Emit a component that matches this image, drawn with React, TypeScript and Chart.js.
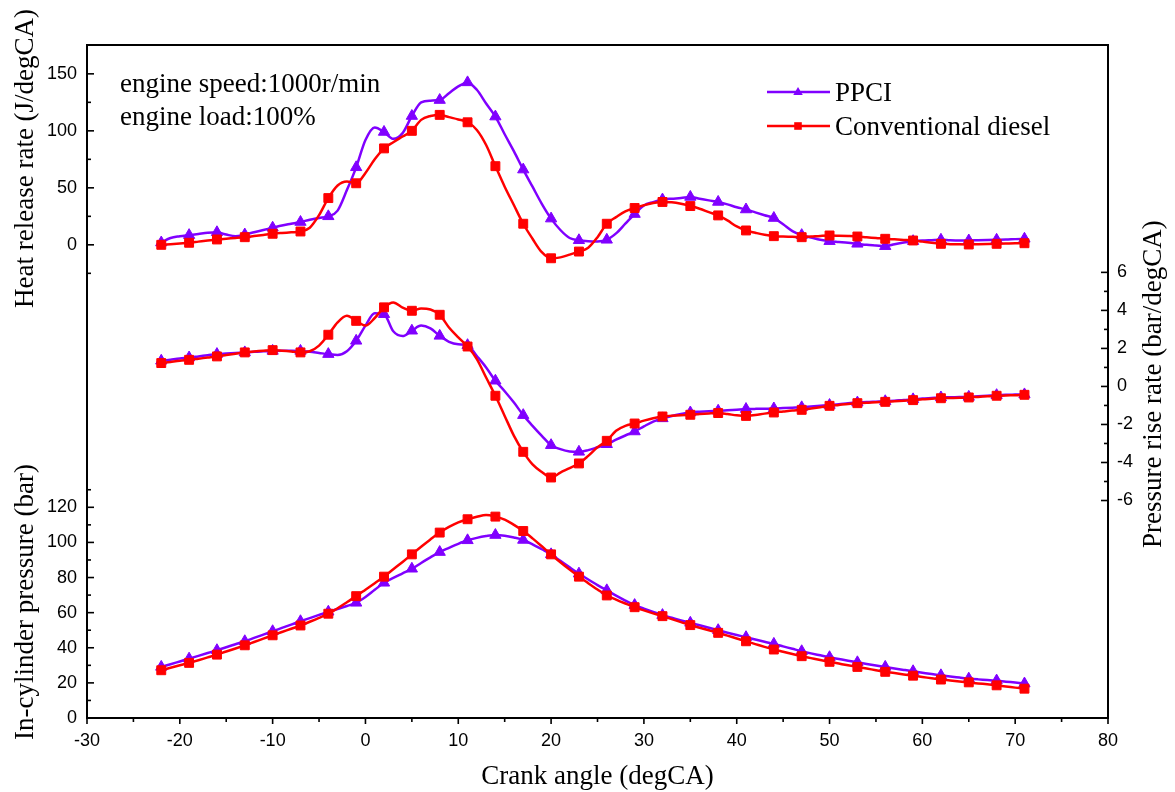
import React, { useEffect, useRef } from 'react';
import { Chart, registerables } from 'chart.js';

Chart.register(...registerables);

// Crank angle (degCA), one reading per degree
const crankAngle = [
  -22, -21, -20, -19, -18, -17, -16, -15, -14, -13,
  -12, -11, -10, -9, -8, -7, -6, -5, -4, -3,
  -2, -1, 0, 1, 2, 3, 4, 5, 6, 7,
  8, 9, 10, 11, 12, 13, 14, 15, 16, 17,
  18, 19, 20, 21, 22, 23, 24, 25, 26, 27,
  28, 29, 30, 31, 32, 33, 34, 35, 36, 37,
  38, 39, 40, 41, 42, 43, 44, 45, 46, 47,
  48, 49, 50, 51, 52, 53, 54, 55, 56, 57,
  58, 59, 60, 61, 62, 63, 64, 65, 66, 67,
  68, 69, 70, 71,
];

// angles where symbols are drawn
const markerAngles = [-22, -19, -16, -13, -10, -7, -4, -1, 2, 5, 8, 11, 14, 17, 20, 23, 26, 29, 32, 35, 38, 41, 44, 47, 50, 53, 56, 59, 62, 65, 68, 71];

// Heat release rate (J/degCA)
const hrrPPCI = [
  2, 6, 7.5, 8.5, 9.5, 10.5, 11, 9, 7.5, 9,
  11, 13, 15, 17, 18.5, 20, 22, 23.5, 25, 30,
  48, 68, 92, 103, 99, 93, 98, 113, 125, 126.5,
  127, 133, 139, 142.5, 136, 124, 112.5, 97, 82, 66,
  51, 36, 23, 13, 6, 4, 3.2, 3, 4.4, 10,
  18.5, 27, 34.5, 37.5, 39.7, 40.5, 41, 42, 40.5, 39,
  37.6, 35.5, 33, 31, 28.5, 26, 23.5, 18, 12, 8.5,
  6.5, 4.5, 3.2, 2.5, 1.8, 0.9, 0, -0.6, -1.2, 0.5,
  2, 3.2, 3.8, 4.1, 4.4, 4, 3.8, 3.8, 4, 4.2,
  4.4, 4.6, 5, 5.3,
];
const hrrConv = [
  0, 0.6, 1.2, 1.8, 2.8, 3.8, 4.7, 5.4, 6, 6.7,
  7.7, 8.7, 9.7, 10.4, 11, 11.7, 15, 26, 41, 52,
  55.5, 54, 63, 75, 84.6, 90, 95, 100, 109.6, 113,
  114, 112, 110, 107.5, 100.8, 87.6, 69, 51, 34.7, 18.5,
  5.3, -6.5, -11.8, -11, -8.6, -5.9, -2.6, 6.7, 18.5, 24.3,
  29.4, 32.3, 34.7, 36.7, 37.6, 37.3, 36, 34, 31.7, 28.7,
  25.8, 21.4, 16.1, 12.6, 10.6, 8.8, 7.6, 7.2, 7, 6.7,
  7.2, 7.8, 8.2, 8, 7.7, 7.3, 6.6, 6, 5.3, 4.8,
  4.3, 3.8, 2.8, 1.8, 0.9, 0.6, 0.4, 0.3, 0.5, 0.7,
  0.9, 1.1, 1.3, 1.4,
];

// Pressure rise rate (bar/degCA)
const prrPPCI = [
  1.35, 1.41, 1.47, 1.52, 1.58, 1.64, 1.7, 1.73, 1.76, 1.79,
  1.82, 1.85, 1.87, 1.88, 1.88, 1.87, 1.82, 1.76, 1.7, 1.66,
  1.85, 2.4, 3.2, 3.85, 3.8, 2.9, 2.65, 2.93, 3.2, 3.05,
  2.66, 2.35, 2.22, 2.17, 1.6, 1.0, 0.3, -0.25, -0.85, -1.51,
  -2.07, -2.6, -3.09, -3.3, -3.42, -3.44, -3.35, -3.2, -3.04, -2.8,
  -2.58, -2.37, -2.1, -1.85, -1.68, -1.55, -1.45, -1.37, -1.33, -1.3,
  -1.28, -1.25, -1.22, -1.19, -1.18, -1.17, -1.16, -1.14, -1.12, -1.1,
  -1.06, -1.02, -0.98, -0.94, -0.89, -0.85, -0.82, -0.8, -0.78, -0.75,
  -0.71, -0.68, -0.64, -0.61, -0.58, -0.57, -0.56, -0.55, -0.52, -0.49,
  -0.46, -0.44, -0.43, -0.42,
];
const prrConv = [
  1.23, 1.29, 1.35, 1.4, 1.46, 1.52, 1.58, 1.65, 1.72, 1.79,
  1.84, 1.88, 1.91, 1.88, 1.84, 1.79, 1.85, 2.15, 2.72, 3.37,
  3.72, 3.45, 3.2, 3.6, 4.16, 4.42, 4.15, 3.98, 4.1, 4.05,
  3.77, 3.1, 2.58, 2.1, 1.44, 0.47, -0.49, -1.55, -2.6, -3.44,
  -4.1, -4.5, -4.79, -4.53, -4.3, -4.05, -3.65, -3.2, -2.86, -2.33,
  -2.07, -1.95, -1.8, -1.67, -1.58, -1.54, -1.51, -1.49, -1.45, -1.42,
  -1.4, -1.45, -1.52, -1.55, -1.5, -1.43, -1.37, -1.32, -1.27, -1.23,
  -1.16, -1.09, -1.02, -0.97, -0.92, -0.88, -0.86, -0.83, -0.81, -0.78,
  -0.75, -0.72, -0.68, -0.65, -0.62, -0.61, -0.6, -0.58, -0.55, -0.52,
  -0.49, -0.47, -0.46, -0.44,
];

// In-cylinder pressure (bar)
const pPPCI = [
  29.1, 30.6, 32.2, 33.8, 35.4, 37.0, 38.6, 40.3, 42.0, 43.7,
  45.6, 47.5, 49.4, 51.3, 53.2, 55.1, 56.9, 58.7, 60.5, 62.1,
  63.8, 65.6, 68.9, 73.0, 77.0, 79.8, 82.4, 85.0, 88.3, 91.5,
  94.5, 96.9, 99.2, 101.2, 102.6, 103.6, 104.2, 103.8, 102.8, 101.4,
  98.9, 96.1, 93.2, 89.5, 85.8, 82.2, 78.9, 75.7, 72.7, 69.7,
  66.9, 64.3, 62.3, 60.4, 58.6, 57.1, 55.6, 54.2, 52.8, 51.4,
  50.0, 48.6, 47.3, 46.0, 44.7, 43.4, 42.2, 40.8, 39.4, 38.0,
  36.8, 35.7, 34.6, 33.6, 32.6, 31.7, 30.8, 29.9, 29.1, 28.2,
  27.4, 26.6, 25.8, 25.0, 24.3, 23.6, 23.0, 22.4, 22.0, 21.7,
  21.3, 20.7, 20.2, 19.6,
];
const pConv = [
  27.2, 28.6, 30.0, 31.4, 32.9, 34.5, 36.1, 37.9, 39.6, 41.4,
  43.3, 45.2, 47.1, 49.0, 50.8, 52.7, 54.8, 57.0, 59.4, 62.5,
  65.9, 69.4, 73.1, 76.8, 80.5, 84.7, 88.9, 93.2, 97.5, 101.7,
  105.6, 108.8, 111.4, 113.2, 114.6, 115.6, 114.7, 113.0, 110.0, 106.5,
  102.3, 97.8, 93.2, 88.7, 84.5, 80.5, 76.8, 73.2, 69.8, 67.4,
  65.2, 63.1, 61.3, 59.6, 58.0, 56.3, 54.6, 52.9, 51.4, 50.0,
  48.5, 46.9, 45.3, 43.7, 42.1, 40.5, 39.0, 37.7, 36.4, 35.2,
  34.1, 33.0, 32.0, 31.0, 30.0, 29.1, 28.2, 27.2, 26.3, 25.6,
  24.8, 24.1, 23.4, 22.6, 21.9, 21.4, 20.8, 20.3, 19.7, 19.2,
  18.6, 18.0, 17.3, 16.7,
];

// Tick values
const xMajorTicks = [-30, -20, -10, 0, 10, 20, 30, 40, 50, 60, 70, 80];
const xMinorTicks = [-25, -15, -5, 5, 15, 25, 35, 45, 55, 65, 75];
const hrrMajorTicks = [0, 50, 100, 150];
const hrrMinorTicks = [-25, 25, 75, 125];
const prrMajorTicks = [-6, -4, -2, 0, 2, 4, 6];
const prrMinorTicks = [-5, -3, -1, 1, 3, 5];
const pMajorTicks = [0, 20, 40, 60, 80, 100, 120];
const pMinorTicks = [10, 30, 50, 70, 90, 110, 130];

const seriesNames = ['PPCI', 'Conventional diesel'];
const notes = ['engine speed:1000r/min', 'engine load:100%'];
const xTitle = 'Crank angle (degCA)';
const hrrTitle = 'Heat release rate (J/degCA)';
const prrTitle = 'Pressure rise rate (bar/degCA)';
const pTitle = 'In-cylinder pressure (bar)';

const PURPLE = '#8000ff';
const RED = '#ff0000';
const SERIF = '"Liberation Serif", "Times New Roman", serif';
const SANS = '"Liberation Sans", Arial, sans-serif';

const toXY = (ys: number[]) => crankAngle.map((x, i) => ({ x, y: ys[i] }));

function markerRadius(r: number) {
  return (c: any) => (c.raw && markerAngles.includes(c.raw.x) ? r : 0);
}

function makeDataset(ys: number[], axis: string, color: string, style: string) {
  const isTri = style === 'triangle';
  return {
    data: toXY(ys),
    yAxisID: axis,
    borderColor: color,
    backgroundColor: color,
    borderWidth: 2.5,
    pointStyle: style,
    pointRadius: markerRadius(isTri ? 6.5 : 6.3),
    pointBorderWidth: 1,
    pointBorderColor: color,
    pointBackgroundColor: color,
    cubicInterpolationMode: 'monotone',
    fill: false,
  };
}

const axesPlugin = {
  id: 'originAxes',
  afterDraw(chart: any) {
    const ctx = chart.ctx;
    const { left, right, top, bottom } = chart.chartArea;
    const sx = chart.scales.x;
    const sH = chart.scales.yH;
    const sR = chart.scales.yR;
    const sP = chart.scales.yP;
    ctx.save();
    ctx.strokeStyle = '#000';
    ctx.fillStyle = '#000';

    // frame
    ctx.lineWidth = 2;
    ctx.strokeRect(left, top, right - left, bottom - top);

    ctx.lineWidth = 1.6;
    const line = (x1: number, y1: number, x2: number, y2: number) => {
      ctx.beginPath();
      ctx.moveTo(x1, y1);
      ctx.lineTo(x2, y2);
      ctx.stroke();
    };
    // bottom ticks (outward)
    xMajorTicks.forEach((v) => { const x = sx.getPixelForValue(v); line(x, bottom, x, bottom + 6); });
    xMinorTicks.forEach((v) => { const x = sx.getPixelForValue(v); line(x, bottom, x, bottom + 4); });
    // left ticks (inward)
    hrrMajorTicks.forEach((v) => { const y = sH.getPixelForValue(v); line(left, y, left + 7, y); });
    hrrMinorTicks.forEach((v) => { const y = sH.getPixelForValue(v); line(left, y, left + 4, y); });
    pMajorTicks.forEach((v) => { const y = sP.getPixelForValue(v); line(left, y, left + 7, y); });
    pMinorTicks.forEach((v) => { const y = sP.getPixelForValue(v); line(left, y, left + 4, y); });
    // right ticks (inward)
    prrMajorTicks.forEach((v) => { const y = sR.getPixelForValue(v); line(right, y, right - 7, y); });
    prrMinorTicks.forEach((v) => { const y = sR.getPixelForValue(v); line(right, y, right - 4, y); });

    // tick labels
    ctx.font = `18px ${SANS}`;
    ctx.textBaseline = 'middle';
    ctx.textAlign = 'center';
    xMajorTicks.forEach((v) => ctx.fillText(String(v), sx.getPixelForValue(v), bottom + 23));
    ctx.textAlign = 'right';
    hrrMajorTicks.forEach((v) => ctx.fillText(String(v), left - 10, sH.getPixelForValue(v)));
    pMajorTicks.forEach((v) => ctx.fillText(String(v), left - 10, sP.getPixelForValue(v)));
    ctx.textAlign = 'left';
    prrMajorTicks.forEach((v) => ctx.fillText(String(v), right + 9, sR.getPixelForValue(v)));

    // axis titles
    ctx.font = `27px ${SERIF}`;
    ctx.textBaseline = 'alphabetic';
    ctx.textAlign = 'center';
    ctx.fillText(xTitle, (left + right) / 2, bottom + 66);

    const vtext = (t: string, x: number, y: number) => {
      ctx.save();
      ctx.translate(x, y);
      ctx.rotate(-Math.PI / 2);
      ctx.textAlign = 'left';
      ctx.fillText(t, 0, 0);
      ctx.restore();
    };
    vtext(hrrTitle, 33, 308);
    vtext(pTitle, 33, 740);
    vtext(prrTitle, 1161, 548);

    // annotation
    ctx.textAlign = 'left';
    ctx.fillText(notes[0], 120, 92);
    ctx.fillText(notes[1], 120, 125);

    // legend
    const legendRows = [
      { name: seriesNames[0], color: PURPLE, tri: true, y: 92 },
      { name: seriesNames[1], color: RED, tri: false, y: 126 },
    ];
    legendRows.forEach((r) => {
      ctx.strokeStyle = r.color;
      ctx.fillStyle = r.color;
      ctx.lineWidth = 2.5;
      line(767, r.y, 830, r.y);
      const mx = 798;
      ctx.beginPath();
      if (r.tri) {
        const s = 5;
        ctx.moveTo(mx, r.y - s);
        ctx.lineTo(mx + s * 0.95, r.y + s * 0.6);
        ctx.lineTo(mx - s * 0.95, r.y + s * 0.6);
        ctx.closePath();
      } else {
        ctx.rect(mx - 3.8, r.y - 3.8, 7.6, 7.6);
      }
      ctx.fill();
      ctx.fillStyle = '#000';
      ctx.fillText(r.name, 835, r.y + 9);
    });
    ctx.restore();
  },
};

export default function App() {
  const canvasRef = useRef<HTMLCanvasElement | null>(null);

  useEffect(() => {
    const canvas = canvasRef.current;
    if (!canvas) return;
    const chart = new Chart(canvas, {
      type: 'line',
      data: {
        datasets: [
          makeDataset(hrrConv, 'yH', RED, 'rect'),
          makeDataset(prrConv, 'yR', RED, 'rect'),
          makeDataset(pConv, 'yP', RED, 'rect'),
          makeDataset(hrrPPCI, 'yH', PURPLE, 'triangle'),
          makeDataset(prrPPCI, 'yR', PURPLE, 'triangle'),
          makeDataset(pPPCI, 'yP', PURPLE, 'triangle'),
        ] as any,
      },
      options: {
        responsive: false,
        animation: false,
        events: [],
        layout: { padding: { left: 87, right: 67, top: 45, bottom: 74 } },
        plugins: { legend: { display: false }, tooltip: { enabled: false } },
        scales: {
          x: { type: 'linear', min: -30, max: 80, display: false },
          yH: { type: 'linear', min: -415.1, max: 175.3, display: false },
          yR: { type: 'linear', min: -17.44, max: 17.96, display: false },
          yP: { type: 'linear', min: 0, max: 383.3, display: false },
        },
      } as any,
      plugins: [axesPlugin],
    });
    return () => chart.destroy();
  }, []);

  return (
    <div style={{ position: 'fixed', left: 0, top: 0, width: 1175, height: 792, background: '#fff' }}>
      <canvas ref={canvasRef} width={1175} height={792} style={{ display: 'block' }} />
    </div>
  );
}
